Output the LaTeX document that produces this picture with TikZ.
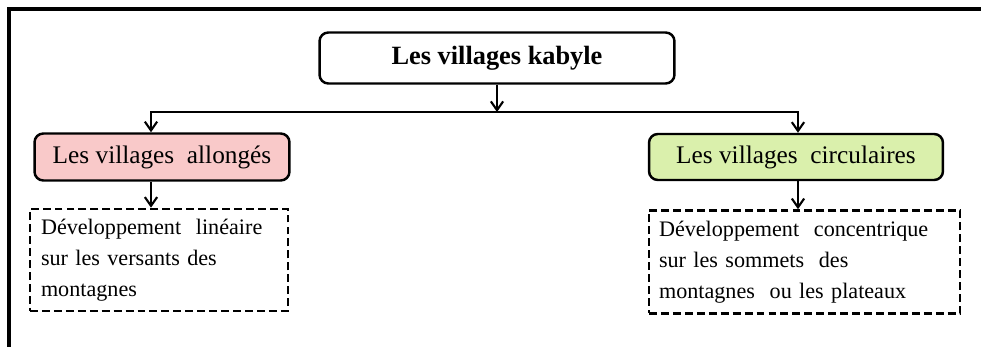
\documentclass[tikz,border=0pt]{standalone}
\usepackage{fontspec}
\setmainfont{Liberation Serif}
\usetikzlibrary{positioning, arrows.meta}
\definecolor{allongefill}{RGB}{249,201,201}
\definecolor{circfill}{RGB}{218,240,172}

\begin{document}
\begin{tikzpicture}[
    x = 0.02cm, y = -0.02cm,
    > = {Straight Barb[length = 5pt, width = 7pt]},
    line width = 1.2pt,
    font = \fontsize{14.4}{17.6}\selectfont,
    box/.style = {rectangle, rounded corners = 5pt, draw, line width = 1.4pt, inner sep = 0pt},
    detail/.style = {rectangle, draw, dash pattern = on 4.5pt off 2.3pt, line width = 1.5pt,
                     inner ysep = 0pt, align = left, font = \fontsize{12.6}{17.6}\selectfont}
]
\useasboundingbox (0,0) rectangle (981,347);

% Frame
\draw[line width = 2.2pt] (9,347) -- (9,9) -- (981,9);

% Boxes
\node[box, minimum width = 7.1cm, minimum height = 1.02cm,
      font = \fontsize{15}{18}\selectfont\bfseries] (kabyle)      at (497,58)  {Les villages kabyle};
\node[box, fill = allongefill, minimum width = 5.1cm, minimum height = 0.94cm]
                                                   (allonges)    at (162,157) {Les villages\ \ allongés};
\node[box, fill = circfill, minimum width = 5.88cm, minimum height = 0.92cm]
                                                   (circulaires) at (796,157) {Les villages\ \ circulaires};
\node[detail, inner xsep = 0.22cm, text width = 4.72cm, minimum height = 2.04cm]
                                                   (lineaire)    at (159,260)
    {Développement\ \ linéaire\\ sur les\ versants\ des\\ montagnes};
\node[detail, inner xsep = 0.2cm, text width = 5.82cm, minimum height = 2.06cm]
                                                   (concentrique) at (804.5,262)
    {Développement\ \ concentrique\\ sur les\ sommets\ \ des\\ montagnes\ \ ou les plateaux};

% Connectors
\coordinate (fork)  at (497,112);
\coordinate (forkl) at (151,112);
\coordinate (forkr) at (798,112);

\draw[->] (kabyle) -- (fork);
\draw[->] (fork) -- (forkl) -- (forkl |- allonges.north);
\draw[->] (fork) -- (forkr) -- (forkr |- circulaires.north);
\draw[->] (forkl |- allonges.south)    -- (forkl |- lineaire.north);
\draw[->] (forkr |- circulaires.south) -- (forkr |- concentrique.north);

\end{tikzpicture}
\end{document}
